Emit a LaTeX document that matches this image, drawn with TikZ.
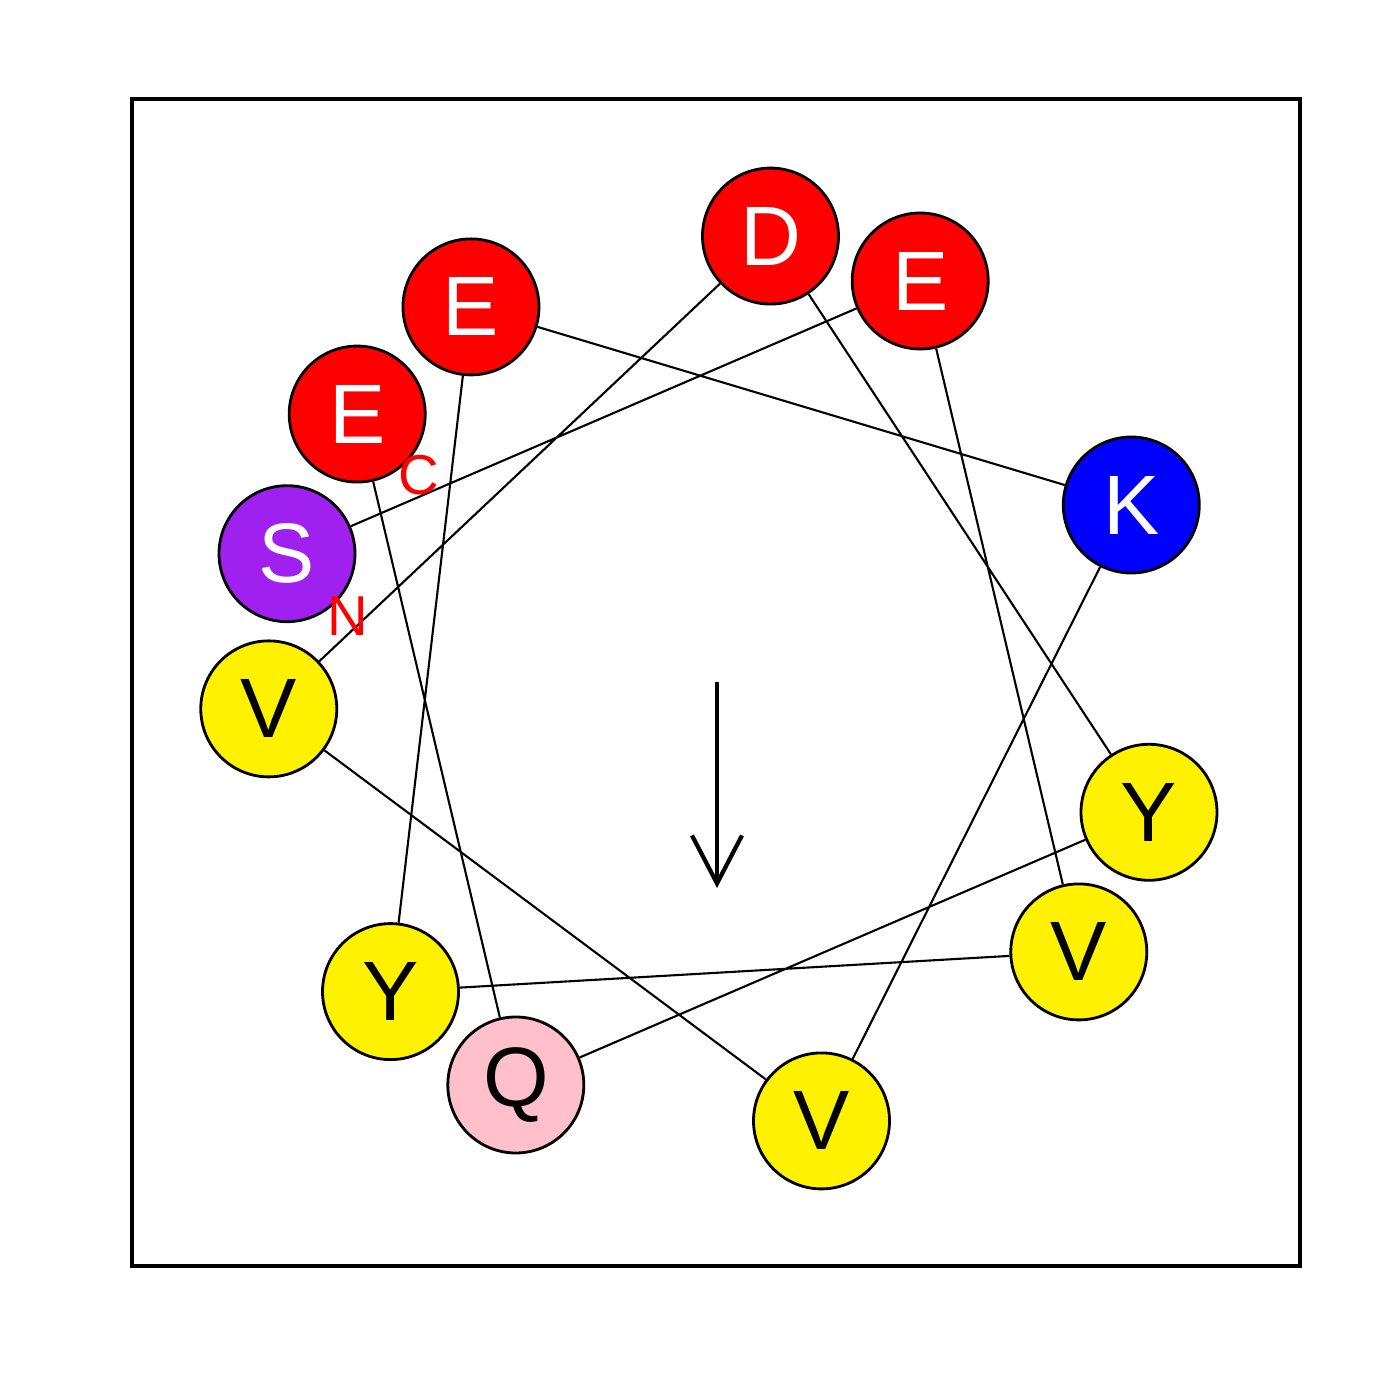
\documentclass[tikz,border=0pt]{standalone}
\usepackage{fontspec}
\setmainfont{Liberation Sans}
\usepackage{tikz}
\usetikzlibrary{arrows.meta}
\usepackage{xcolor}
\definecolor{rpurple}{HTML}{A020F0}
\definecolor{rpink}{HTML}{FFC0CB}

\begin{document}
\begin{tikzpicture}[
    res/.style={circle, draw=black, line width=0.8pt, minimum size=1.36cm, inner sep=0pt,
        font=\fontsize{24}{24}\selectfont},
    acid/.style={res, fill=red, text=white},
    base/.style={res, fill=blue, text=white},
    polar/.style={res, fill=rpurple, text=white},
    hydro/.style={res, fill=yellow, text=black},
    amide/.style={res, fill=rpink, text=black},
    term/.style={text=red, font=\fontsize{16}{16}\selectfont, inner sep=0pt},
    link/.style={line width=0.6pt}
]
    \useasboundingbox (0,0) rectangle (14,14);
    \draw[line width=0.9pt] (1.32,1.34) rectangle (13.00,13.01);

    % Residues, 100 degrees apart
    \node[polar] (s1)  at ([shift={(163.3:4.5)}]7.18,7.17) {S};
    \node[acid]  (e2)  at ([shift={(63.3:4.5)}]7.18,7.17) {E};
    \node[hydro] (v3)  at ([shift={(-36.7:4.5)}]7.18,7.17) {V};
    \node[hydro] (y4)  at ([shift={(-136.7:4.5)}]7.18,7.17) {Y};
    \node[acid]  (e5)  at ([shift={(123.3:4.5)}]7.18,7.17) {E};
    \node[base]  (k6)  at ([shift={(23.3:4.5)}]7.18,7.17) {K};
    \node[hydro] (v7)  at ([shift={(-76.7:4.5)}]7.18,7.17) {V};
    \node[hydro] (v8)  at ([shift={(-176.7:4.5)}]7.18,7.17) {V};
    \node[acid]  (d9)  at ([shift={(83.3:4.5)}]7.18,7.17) {D};
    \node[hydro] (y10) at ([shift={(-16.7:4.5)}]7.18,7.17) {Y};
    \node[amide] (q11) at ([shift={(-116.7:4.5)}]7.18,7.17) {Q};
    \node[acid]  (e12) at ([shift={(143.3:4.5)}]7.18,7.17) {E};

    % Backbone
    \draw[link] (s1) -- (e2) -- (v3) -- (y4) -- (e5) -- (k6) -- (v7)
        -- (v8) -- (d9) -- (y10) -- (q11) -- (e12);

    % Termini
    \node[term] (nterm) at ([shift={(0.61,-0.62)}]s1) {N};
    \node[term] (cterm) at ([shift={(0.62,-0.61)}]e12) {C};

    % Moment
    \coordinate (mtail) at (7.17,7.18);
    \coordinate (mhead) at (7.17,5.12);
    \draw[line width=1.2pt, -{Straight Barb[length=4.8mm,width=5mm,line width=1.2pt]}] (mtail) -- (mhead);
\end{tikzpicture}
\end{document}
